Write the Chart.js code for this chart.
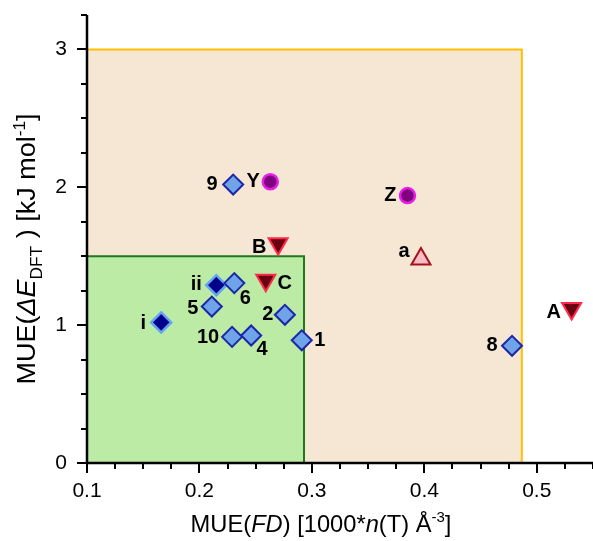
<!DOCTYPE html>
<html>
<head>
<meta charset="utf-8">
<script src="https://cdn.jsdelivr.net/npm/chart.js@4.4.1/dist/chart.umd.min.js"></script>
<style>
html,body{margin:0;padding:0;background:#fff;}
#wrap{width:593px;height:541px;}
</style>
</head>
<body>
<div id="wrap"><canvas id="c" width="593" height="541"></canvas></div>
<script>
// ---- data ----
const diamondLabels = ['1','2','4','5','6','8','9','10'];
const diamondX = [0.291, 0.276, 0.246, 0.211, 0.231, 0.478, 0.230, 0.229];
const diamondY = [0.89, 1.075, 0.925, 1.135, 1.305, 0.85, 2.02, 0.915];

const darkLabels = ['i','ii'];
const darkX = [0.166, 0.215];
const darkY = [1.02, 1.29];

const triDownLabels = ['A','B','C'];
const triDownX = [0.531, 0.270, 0.259];
const triDownY = [1.12, 1.59, 1.325];

const triUpLabels = ['a'];
const triUpX = [0.397];
const triUpY = [1.48];

const circleLabels = ['Y','Z'];
const circleX = [0.263, 0.385];
const circleY = [2.04, 1.94];

// threshold regions (data units)
const greenRegion = [0.293, 1.5];   // [x max, y max]
const orangeRegion = [0.4867, 3.0]; // [x max, y max]

const xTickLabels = ['0.1','0.2','0.3','0.4','0.5'];
const yTickLabels = ['0','1','2','3'];

// ---- label placement (style) ----
const labelOffsets = {
  '1':[18,0],'2':[-17,0],'4':[11,14],'5':[-19,2],'6':[11,15],'8':[-20,0],'9':[-21,0],'10':[-24,1],
  'i':[-18,1],'ii':[-20,-1],
  'A':[-18,4],'B':[-19,4],'C':[19,3],
  'a':[-17,-8],
  'Y':[-17,0],'Z':[-17,0]
};

const FONT = '"Liberation Sans", Arial, sans-serif';

function pts(xs, ys){ return xs.map((x,i)=>({x:x, y:ys[i]})); }

const regionsPlugin = {
  id:'regions',
  beforeDraw(chart){
    const {ctx, scales:{x, y}} = chart;
    ctx.save();
    const x0 = x.getPixelForValue(x.min), y0 = y.getPixelForValue(0);
    // orange
    let xr = x.getPixelForValue(orangeRegion[0]), yt = y.getPixelForValue(orangeRegion[1]);
    ctx.fillStyle = '#f6e7d5';
    ctx.fillRect(x0, yt, xr-x0, y0-yt);
    ctx.strokeStyle = '#ffc000'; ctx.lineWidth = 2;
    ctx.beginPath(); ctx.moveTo(x0, yt); ctx.lineTo(xr, yt); ctx.lineTo(xr, y0); ctx.stroke();
    // green
    xr = x.getPixelForValue(greenRegion[0]); yt = y.getPixelForValue(greenRegion[1]);
    ctx.fillStyle = '#bbeba4';
    ctx.fillRect(x0, yt, xr-x0, y0-yt);
    ctx.strokeStyle = '#1f7a1f'; ctx.lineWidth = 2;
    ctx.beginPath(); ctx.moveTo(x0, yt); ctx.lineTo(xr, yt); ctx.lineTo(xr, y0); ctx.stroke();
    ctx.restore();
  }
};

function drawRich(ctx, segs, cx, by, size){
  const fontOf = s => (s.it?'italic ':'') + ((s.sub||s.sup)? Math.round(size*0.62) : size) + 'px ' + FONT;
  let total = 0;
  segs.forEach(s=>{ ctx.font = fontOf(s); s.w = ctx.measureText(s.t).width; total += s.w; });
  let xx = cx - total/2;
  ctx.textBaseline = 'alphabetic'; ctx.textAlign = 'left'; ctx.fillStyle = '#000';
  segs.forEach(s=>{
    ctx.font = fontOf(s);
    let dy = s.sub ? size*0.28 : (s.sup ? -size*0.42 : 0);
    ctx.fillText(s.t, xx, by + dy);
    xx += s.w;
  });
}

const decorPlugin = {
  id:'decor',
  afterDatasetsDraw(chart){
    const {ctx, chartArea:a, scales:{x, y}} = chart;
    ctx.save();
    // point labels
    ctx.font = 'bold 20px ' + FONT;
    ctx.fillStyle = '#000';
    ctx.textAlign = 'center';
    ctx.textBaseline = 'middle';
    chart.data.datasets.forEach((ds, di)=>{
      const meta = chart.getDatasetMeta(di);
      meta.data.forEach((el, i)=>{
        const lab = ds.pointLabels[i];
        const off = labelOffsets[lab] || [0,0];
        ctx.fillText(lab, el.x + off[0], el.y + off[1]);
      });
    });
    // axes
    ctx.strokeStyle = '#000';
    ctx.lineWidth = 2.5;
    ctx.beginPath();
    ctx.moveTo(a.left, a.top); ctx.lineTo(a.left, a.bottom + 1.25);
    ctx.moveTo(a.left - 1.25, a.bottom); ctx.lineTo(a.right, a.bottom);
    ctx.stroke();
    ctx.lineWidth = 2;
    ctx.beginPath();
    x.ticks.forEach(t=>{
      const px = Math.round(x.getPixelForValue(t.value));
      const major = Math.abs(t.value*10 - Math.round(t.value*10)) < 1e-6;
      ctx.moveTo(px, a.bottom); ctx.lineTo(px, a.bottom + (major?10:6));
    });
    y.ticks.forEach(t=>{
      const py = Math.round(y.getPixelForValue(t.value));
      const major = Math.abs(t.value - Math.round(t.value)) < 1e-6;
      ctx.moveTo(a.left, py); ctx.lineTo(a.left - (major?10:6), py);
    });
    ctx.stroke();
    // axis titles
    drawRich(ctx, [
      {t:'MUE('},{t:'FD',it:true},{t:') [1000*'},{t:'n',it:true},{t:'(T) Å'},{t:'-3',sup:true},{t:']'}
    ], 321, 532, 23.7);
    ctx.save();
    ctx.translate(35, 249);
    ctx.rotate(-Math.PI/2);
    ctx.scale(1.08, 1);
    drawRich(ctx, [
      {t:'MUE('},{t:'ΔE',it:true},{t:'DFT',sub:true},{t:' ) [kJ mol'},{t:'-1',sup:true},{t:']'}
    ], 0, 0, 25);
    ctx.restore();
    ctx.restore();
  }
};

const tickFont = {family: FONT, size: 21};

new Chart(document.getElementById('c'), {
  type:'scatter',
  data:{
    datasets:[
      {label:'light', data:pts(diamondX, diamondY), pointLabels:diamondLabels,
       pointStyle:'rectRot', radius:10, hoverRadius:10, borderWidth:2,
       backgroundColor:'#6fa4e8', borderColor:'#1c26a6'},
      {label:'dark', data:pts(darkX, darkY), pointLabels:darkLabels,
       pointStyle:'rectRot', radius:10, hoverRadius:10, borderWidth:2.5,
       backgroundColor:'#00008b', borderColor:'#62a4f2'},
      {label:'tridown', data:pts(triDownX, triDownY), pointLabels:triDownLabels,
       pointStyle:'triangle', rotation:180, radius:11, hoverRadius:11, borderWidth:2,
       backgroundColor:'#6b0013', borderColor:'#ff2a4a'},
      {label:'triup', data:pts(triUpX, triUpY), pointLabels:triUpLabels,
       pointStyle:'triangle', radius:11, hoverRadius:11, borderWidth:2,
       backgroundColor:'#f8bcc4', borderColor:'#a3121c'},
      {label:'circle', data:pts(circleX, circleY), pointLabels:circleLabels,
       pointStyle:'circle', radius:7.5, hoverRadius:7.5, borderWidth:2.5,
       backgroundColor:'#800080', borderColor:'#e61ee6'}
    ]
  },
  options:{
    responsive:false,
    animation:false,
    events:[],
    layout:{autoPadding:false, padding:{left:0, right:0, top:15, bottom:0}},
    plugins:{legend:{display:false}, tooltip:{enabled:false}},
    scales:{
      x:{
        type:'linear', min:0.1, max:0.55,
        border:{display:false},
        grid:{display:true, drawOnChartArea:false, drawTicks:true, tickLength:10, color:'rgba(0,0,0,0)'},
        ticks:{stepSize:0.025, autoSkip:false, maxRotation:0, minRotation:0, padding:6, color:'#000', font:tickFont,
          callback:(v)=>{ const k = Math.round(v*10); return (Math.abs(v*10-k)<1e-6 && xTickLabels[k-1]!==undefined) ? xTickLabels[k-1] : ''; }},
        afterFit:(s)=>{ s.height = 78; s.paddingLeft = 0; s.paddingRight = 0; }
      },
      y:{
        type:'linear', min:0, max:3.25,
        border:{display:false},
        grid:{display:true, drawOnChartArea:false, drawTicks:true, tickLength:10, color:'rgba(0,0,0,0)'},
        ticks:{stepSize:0.25, autoSkip:false, padding:10, color:'#000', font:tickFont,
          callback:(v)=>{ const k = Math.round(v); return (Math.abs(v-k)<1e-6 && yTickLabels[k]!==undefined) ? yTickLabels[k] : ''; }},
        afterFit:(s)=>{ s.width = 87; s.paddingTop = 0; s.paddingBottom = 0; }
      }
    }
  },
  plugins:[regionsPlugin, decorPlugin]
});
</script>
</body>
</html>
